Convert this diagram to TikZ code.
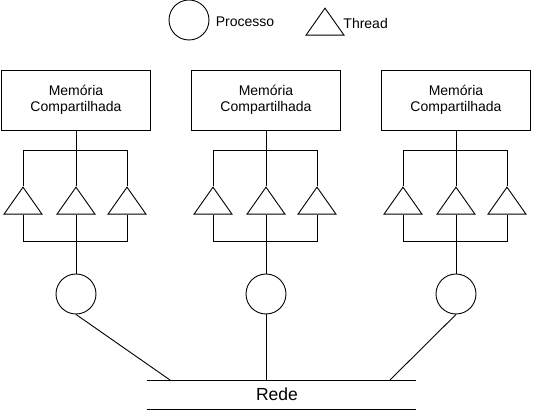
\documentclass[tikz,border=0pt]{standalone}
\usepackage{fontspec}
\setmainfont{Liberation Sans}
\usetikzlibrary{shapes.geometric, positioning}

\begin{document}
\begin{tikzpicture}[x=1pt, y=-1pt, line width=0.9pt,
        mem box/.style = {draw, minimum width=149pt, minimum height=60pt, align=center, inner sep=0pt, font=\fontsize{14}{16}\selectfont},
        proc/.style = {draw, circle, minimum size=40pt, inner sep=0pt},
        thread/.style = {draw, isosceles triangle, isosceles triangle stretches, shape border rotate=90, minimum width=38pt, minimum height=27pt, inner sep=0pt},
        legend text/.style = {inner sep=0pt, font=\fontsize{14}{16}\selectfont},
        line/.style = {-}
    ]
    \useasboundingbox (0,0) rectangle (539,411);

    % Legend
    \node (lproc) [proc] at (189,20) {};
    \node (lproctext) [legend text, right=6pt of lproc, yshift=-2pt] {Processo};
    \node (lthread) [thread, anchor=apex] at (325,7) {};
    \node (lthreadtext) [legend text, anchor=west] at (343,23.5) {Thread};

    % Nodes
    \node (mem1) [mem box] at (76,100) {Memória\\Compartilhada};
    \node (mem2) [mem box] at (266,100) {Memória\\Compartilhada};
    \node (mem3) [mem box] at (456,100) {Memória\\Compartilhada};

    \node (t11) [thread, anchor=apex] at (23,186) {};
    \node (t12) [thread, anchor=apex] at (76,186) {};
    \node (t13) [thread, anchor=apex] at (127,186) {};
    \node (t21) [thread, anchor=apex] at (213,186) {};
    \node (t22) [thread, anchor=apex] at (266,186) {};
    \node (t23) [thread, anchor=apex] at (317,186) {};
    \node (t31) [thread, anchor=apex] at (403,186) {};
    \node (t32) [thread, anchor=apex] at (456,186) {};
    \node (t33) [thread, anchor=apex] at (507,186) {};

    \node (p1) [proc] at (76,294) {};
    \node (p2) [proc] at (266,294) {};
    \node (p3) [proc] at (456,294) {};

    % Network
    \coordinate (netL) at (147,380);
    \coordinate (netR) at (416,380);
    \coordinate (netBL) at (147,409);
    \coordinate (netBR) at (416,409);
    \coordinate (j1) at (170,380);
    \coordinate (j2) at (266,380);
    \coordinate (j3) at (390,380);
    \node (rede) [inner sep=0pt, font=\fontsize{17.5}{20}\selectfont] at (277,394.5) {Rede};

    % Lines
    \foreach \g in {1,2,3} {
        \draw[line] (mem\g) -- (t\g2.apex);
        \draw[line] (t\g1.apex) -- ++(0,-36) -| (t\g3.apex);
        \draw[line] (t\g1.south) -- ++(0,27) -| (t\g3.south);
        \draw[line] (t\g2.south) -- (p\g);
        \draw[line] (p\g.south) -- (j\g);
    }
    \draw[line] (netL) -- (netR);
    \draw[line] (netBL) -- (netBR);

\end{tikzpicture}
\end{document}
